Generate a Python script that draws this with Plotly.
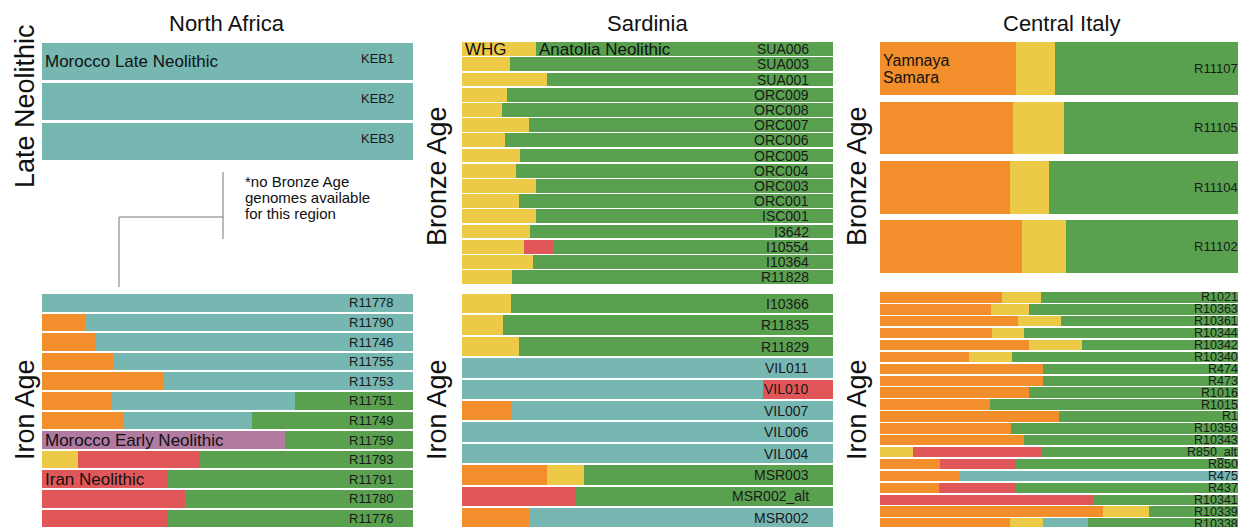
import plotly.graph_objects as go

# the page body adds an 8px margin, so the figure is drawn 8px smaller
# and all pixel positions below are given in the reference's own coordinates
W, H = 1246, 527
OFF = 8
FW, FH = W - OFF, H - OFF

# ancestry components, in stacking order (left to right)
ancestries = ["Yamnaya Samara", "WHG", "Morocco Early Neolithic",
              "Morocco Late Neolithic", "Iran Neolithic", "Anatolia Neolithic"]
colors = ["#f28e2b", "#edc948", "#b07aa1", "#76b7b2", "#e15759", "#59a14f"]

# columns: Yamnaya, WHG, Morocco EN, Morocco LN, Iran N, Anatolia N
na_ln_samples = ["KEB1", "KEB2", "KEB3"]
na_ln_props = [
    [0, 0, 0, 1.0, 0, 0],
    [0, 0, 0, 1.0, 0, 0],
    [0, 0, 0, 1.0, 0, 0],
]

na_iron_samples = ["R11778", "R11790", "R11746", "R11755", "R11753", "R11751",
                   "R11749", "R11759", "R11793", "R11791", "R11780", "R11776"]
na_iron_props = [
    [0, 0, 0, 1.0, 0, 0],
    [0.117, 0, 0, 0.883, 0, 0],
    [0.145, 0, 0, 0.855, 0, 0],
    [0.193, 0, 0, 0.807, 0, 0],
    [0.326, 0, 0, 0.674, 0, 0],
    [0.187, 0, 0, 0.495, 0, 0.318],
    [0.222, 0, 0, 0.344, 0, 0.434],
    [0, 0, 0.655, 0, 0, 0.345],
    [0, 0.097, 0, 0, 0.328, 0.575],
    [0, 0, 0, 0, 0.338, 0.662],
    [0, 0, 0, 0, 0.387, 0.613],
    [0, 0, 0, 0, 0.339, 0.661],
]

sar_bronze_samples = ["SUA006", "SUA003", "SUA001", "ORC009", "ORC008", "ORC007",
                      "ORC006", "ORC005", "ORC004", "ORC003", "ORC001", "ISC001",
                      "I3642", "I10554", "I10364", "R11828"]
sar_bronze_props = [
    [0, 0.200, 0, 0, 0, 0.800],
    [0, 0.129, 0, 0, 0, 0.871],
    [0, 0.230, 0, 0, 0, 0.770],
    [0, 0.121, 0, 0, 0, 0.879],
    [0, 0.109, 0, 0, 0, 0.891],
    [0, 0.180, 0, 0, 0, 0.820],
    [0, 0.116, 0, 0, 0, 0.884],
    [0, 0.157, 0, 0, 0, 0.843],
    [0, 0.145, 0, 0, 0, 0.855],
    [0, 0.199, 0, 0, 0, 0.801],
    [0, 0.153, 0, 0, 0, 0.847],
    [0, 0.199, 0, 0, 0, 0.801],
    [0, 0.184, 0, 0, 0, 0.816],
    [0, 0.169, 0, 0, 0.077, 0.754],
    [0, 0.193, 0, 0, 0, 0.807],
    [0, 0.135, 0, 0, 0, 0.865],
]

sar_iron_samples = ["I10366", "R11835", "R11829", "VIL011", "VIL010", "VIL007",
                    "VIL006", "VIL004", "MSR003", "MSR002_alt", "MSR002"]
sar_iron_props = [
    [0, 0.133, 0, 0, 0, 0.867],
    [0, 0.112, 0, 0, 0, 0.888],
    [0, 0.155, 0, 0, 0, 0.845],
    [0, 0, 0, 1.0, 0, 0],
    [0, 0, 0, 0.812, 0.188, 0],
    [0.134, 0, 0, 0.866, 0, 0],
    [0, 0, 0, 1.0, 0, 0],
    [0, 0, 0, 1.0, 0, 0],
    [0.231, 0.098, 0, 0, 0, 0.671],
    [0, 0, 0, 0, 0.307, 0.693],
    [0.184, 0, 0, 0.816, 0, 0],
]

ci_bronze_samples = ["R11107", "R11105", "R11104", "R11102"]
ci_bronze_props = [
    [0.372, 0.107, 0, 0, 0, 0.521],
    [0.364, 0.138, 0, 0, 0, 0.498],
    [0.355, 0.108, 0, 0, 0, 0.537],
    [0.389, 0.118, 0, 0, 0, 0.493],
]

ci_iron_samples = ["R1021", "R10363", "R10361", "R10344", "R10342", "R10340",
                   "R474", "R473", "R1016", "R1015", "R1", "R10359", "R10343",
                   "R850_alt", "R850", "R475", "R437", "R10341", "R10339", "R10338"]
ci_iron_props = [
    [0.332, 0.107, 0, 0, 0, 0.561],
    [0.304, 0.103, 0, 0, 0, 0.593],
    [0.378, 0.116, 0, 0, 0, 0.506],
    [0.306, 0.088, 0, 0, 0, 0.606],
    [0.407, 0.145, 0, 0, 0, 0.448],
    [0.243, 0.117, 0, 0, 0, 0.640],
    [0.446, 0, 0, 0, 0, 0.554],
    [0.446, 0, 0, 0, 0, 0.554],
    [0.406, 0, 0, 0, 0, 0.594],
    [0.301, 0, 0, 0, 0, 0.699],
    [0.489, 0, 0, 0, 0, 0.511],
    [0.358, 0, 0, 0, 0, 0.642],
    [0.394, 0, 0, 0, 0, 0.606],
    [0, 0.090, 0, 0, 0.353, 0.557],
    [0.165, 0, 0, 0, 0.207, 0.628],
    [0.219, 0, 0, 0.781, 0, 0],
    [0.160, 0, 0, 0, 0.210, 0.630],
    [0, 0, 0, 0, 0.582, 0.418],
    [0.608, 0.126, 0, 0, 0, 0.266],
    [0.355, 0.089, 0, 0.124, 0, 0.432],
]

region_titles = ["North Africa", "Sardinia", "Central Italy"]


def px(x):
    return (x - OFF) / FW


def py(y):
    return 1 - (y - OFF) / FH


# (samples, props, x-left px, x-right px, top px, row pitch px, bottom px or None,
#  bar width, label x, label font size, label y shift)
panels = [
    (na_ln_samples, na_ln_props, 41.7, 413, 41, 40, None, 0.925, 0.955, 13, 3),
    (na_iron_samples, na_iron_props, 41.7, 413, 293, 19.6, 527, 0.9, 0.955, 13, 0),
    (sar_bronze_samples, sar_bronze_props, 461.7, 833, 41.5, 15.2, None, 0.9, 0.94, 14, 0),
    (sar_iron_samples, sar_iron_props, 461.7, 833, 293, 21.4, 527, 0.9, 0.94, 14, 0),
    (ci_bronze_samples, ci_bronze_props, 880, 1246, 39, 59.3, None, 0.89, 0.983, 13, 0),
    (ci_iron_samples, ci_iron_props, 880, 1246, 291.5, 11.9, 527, 0.88, 0.983, 12.5, 0),
]

fig = go.Figure()
annotations = []
layout_axes = {}

for p, (samples, props, x0, x1, top, pitch, bottom, bw, lab_x, lab_size, lab_dy) in enumerate(panels):
    n = len(samples)
    if bottom is None:
        bottom = top + n * pitch
    suffix = "" if p == 0 else str(p + 1)
    xa, ya = "x" + suffix, "y" + suffix
    for k, name in enumerate(ancestries):
        fig.add_trace(go.Bar(
            y=list(range(n)),
            x=[row[k] for row in props],
            orientation="h",
            width=bw,
            marker=dict(color=colors[k], line=dict(width=0)),
            name=name,
            showlegend=False,
            xaxis=xa, yaxis=ya,
        ))
    layout_axes["xaxis" + suffix] = dict(
        domain=[px(x0), min(px(x1), 1)], range=[0, 1], anchor=ya,
        visible=False, fixedrange=True)
    layout_axes["yaxis" + suffix] = dict(
        domain=[max(py(bottom), 0), py(top)],
        range=[-0.5 + (bottom - top) / pitch, -0.5], anchor=xa,
        visible=False, fixedrange=True)
    for i, s in enumerate(samples):
        annotations.append(dict(
            x=lab_x, y=i, xref=xa, yref=ya, text=s, showarrow=False,
            xanchor="right", yanchor="middle", yshift=lab_dy,
            font=dict(size=lab_size, color="#1a1a1a")))

# region titles
for t, xc in zip(region_titles, [227, 647, 1061]):
    annotations.append(dict(x=px(xc), y=py(24), xref="paper", yref="paper",
                            text=t, showarrow=False, xanchor="center", yanchor="middle",
                            font=dict(size=22, color="#111")))

# period labels
for t, xc, yc in [("Late Neolithic", 25, 106), ("Iron Age", 25, 410),
                  ("Bronze Age", 437, 176), ("Iron Age", 437, 410),
                  ("Bronze Age", 857, 176), ("Iron Age", 857, 410)]:
    annotations.append(dict(x=px(xc), y=py(yc), xref="paper", yref="paper",
                            text=t, showarrow=False, textangle=-90,
                            xanchor="center", yanchor="middle",
                            font=dict(size=27, color="#111")))

# population labels: text, axes, row, x position, font size
pop_labels = [
    ("Morocco Late Neolithic", "x", "y", 0, 0.0, 17),
    ("WHG", "x3", "y3", 0, 0.0, 17),
    ("Anatolia Neolithic", "x3", "y3", 0, 0.2, 17),
    ("Morocco Early Neolithic", "x2", "y2", 7, 0.0, 17),
    ("Iran Neolithic", "x2", "y2", 9, 0.0, 17),
    ("Yamnaya", "x5", "y5", -0.14, 0.0, 16),
    ("Samara", "x5", "y5", 0.15, 0.0, 16),
]
for t, xr, yr, row, xv, sz in pop_labels:
    annotations.append(dict(x=xv, y=row, xref=xr, yref=yr, text=t, showarrow=False,
                            xanchor="left", yanchor="middle", xshift=1,
                            font=dict(size=sz, color="#111")))

# note for missing Bronze Age genomes in North Africa
note_lines = ["*no Bronze Age", "genomes available", "for this region"]
for j, line in enumerate(note_lines):
    annotations.append(dict(x=px(243), y=py(182 + 15.5 * j), xref="paper", yref="paper",
                            text=line, showarrow=False, xanchor="left", yanchor="middle",
                            font=dict(size=15, color="#111")))

line_style = dict(color="#777777", width=1)
shapes = [
    dict(type="line", xref="paper", yref="paper", x0=px(223), x1=px(223),
         y0=py(172), y1=py(239), line=line_style),
    dict(type="line", xref="paper", yref="paper", x0=px(119), x1=px(223),
         y0=py(217), y1=py(217), line=line_style),
    dict(type="line", xref="paper", yref="paper", x0=px(119), x1=px(119),
         y0=py(217), y1=py(287), line=line_style),
]

fig.update_layout(
    width=FW, height=FH,
    margin=dict(l=0, r=0, t=0, b=0),
    barmode="stack",
    plot_bgcolor="white",
    paper_bgcolor="white",
    font=dict(family="Liberation Sans, Arial, sans-serif", color="#111"),
    annotations=annotations,
    shapes=shapes,
    **layout_axes,
)

fig.write_html("out.html")
